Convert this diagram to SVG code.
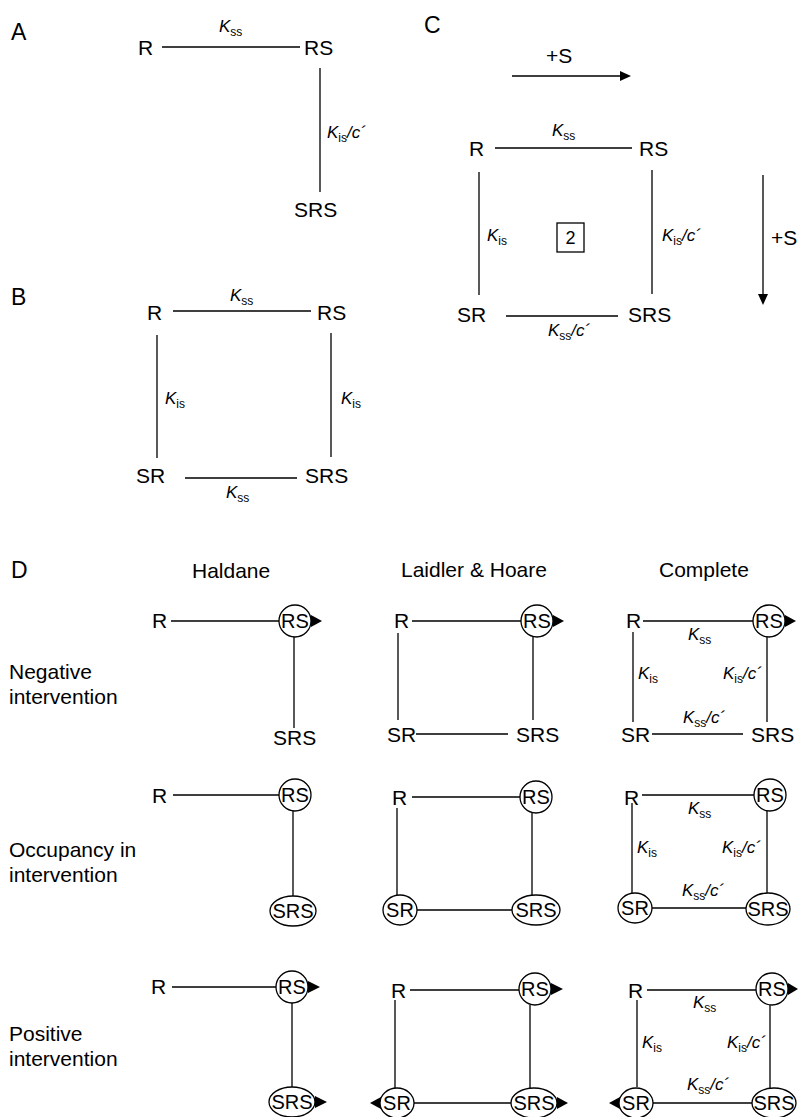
<svg xmlns="http://www.w3.org/2000/svg" width="798" height="1117" viewBox="0 0 798 1117">
<style>
text{font-family:"Liberation Sans",Arial,sans-serif;fill:#000}
.t{font-size:21px}
.p{font-size:23px}
.k{font-size:17px;font-style:italic}
.s{font-size:12px;font-style:normal}
.c{text-anchor:middle;font-size:20px}
.e{stroke:#000;stroke-width:1.3;fill:none}
.n{fill:#fff;stroke:#000;stroke-width:1.3}
.ah{fill:#000}
</style>
<rect width="798" height="1117" fill="#fff"/>

<g id="connectors">
  <!-- A -->
  <path class="e" d="M162 47H300M320 68V192"/>
  <!-- B -->
  <path class="e" d="M173 311H311M157 335V458M331 333V457M185 478H297"/>
  <!-- C -->
  <path class="e" d="M495 148H632M479 172V295M652 170V294M506 316H618"/>
  <path class="e" d="M512 76H622M763 175V296"/>
  <polygon class="ah" points="620,71 631,76 620,81"/>
  <polygon class="ah" points="758,294 763,305 768,294"/>
  <!-- D row 1 -->
  <path class="e" d="M171 621H279M294 637V728"/>
  <path class="e" d="M412 621H521M398 633V720M533 637V720M416 734H508"/>
  <path class="e" d="M643 621H753M633 632V722M767 637V722M652 734H743"/>
  <polygon class="ah" points="311,615 322,621 311,627"/>
  <polygon class="ah" points="553,615 564,621 553,627"/>
  <polygon class="ah" points="785,615 796,621 785,627"/>
  <!-- D row 2 -->
  <path class="e" d="M173 795H279M293 811V896"/>
  <path class="e" d="M412 797H520M397 808V895M532 813V895M417 910H512"/>
  <path class="e" d="M642 795H754M632 803V893M767 811V894M652 908H746"/>
  <!-- D row 3 -->
  <path class="e" d="M172 987H276M292 1003V1087"/>
  <path class="e" d="M410 990H519M395 1000V1088M530 1005V1088M414 1103H511"/>
  <path class="e" d="M647 990H757M637 1000V1087M770 1005V1088M653 1103H752"/>
  <polygon class="ah" points="308,981 320,987 308,993"/>
  <polygon class="ah" points="315,1096 327,1102 315,1108"/>
  <polygon class="ah" points="551,983 563,989 551,995"/>
  <polygon class="ah" points="557,1097 568,1103 557,1109"/>
  <polygon class="ah" points="381,1097 370,1103 381,1109"/>
  <polygon class="ah" points="788,983 798,989 788,995"/>
  <polygon class="ah" points="620,1097 609,1103 620,1109"/>
</g>

<g id="panel-A">
  <text class="p" x="11" y="40">A</text>
  <g id="A-R"><text class="t" x="138" y="55">R</text></g>
  <g id="A-RS"><text class="t" x="304" y="55">RS</text></g>
  <g id="A-SRS"><text class="t" x="294" y="217">SRS</text></g>
  <text class="k" x="219" y="32">K<tspan class="s" dy="4">ss</tspan></text>
  <text class="k" x="327" y="138">K<tspan class="s" dy="4">is</tspan><tspan dy="-4">/c´</tspan></text>
</g>

<g id="panel-B">
  <text class="p" x="11" y="305">B</text>
  <g id="B-R"><text class="t" x="147" y="320">R</text></g>
  <g id="B-RS"><text class="t" x="317" y="320">RS</text></g>
  <g id="B-SR"><text class="t" x="136" y="483">SR</text></g>
  <g id="B-SRS"><text class="t" x="305" y="483">SRS</text></g>
  <text class="k" x="230" y="301">K<tspan class="s" dy="4">ss</tspan></text>
  <text class="k" x="165" y="404">K<tspan class="s" dy="4">is</tspan></text>
  <text class="k" x="341" y="404">K<tspan class="s" dy="4">is</tspan></text>
  <text class="k" x="226" y="498">K<tspan class="s" dy="4">ss</tspan></text>
</g>

<g id="panel-C">
  <text class="p" x="424" y="33">C</text>
  <text class="t" x="546" y="63">+S</text>
  <text class="t" x="771" y="245">+S</text>
  <g id="C-R"><text class="t" x="469" y="156">R</text></g>
  <g id="C-RS"><text class="t" x="639" y="156">RS</text></g>
  <g id="C-SR"><text class="t" x="457" y="322">SR</text></g>
  <g id="C-SRS"><text class="t" x="628" y="322">SRS</text></g>
  <g id="C-box">
    <rect x="557" y="223" width="27" height="29" fill="#fff" stroke="#000" stroke-width="1.3"/>
    <text x="570.5" y="244" font-size="18" text-anchor="middle">2</text>
  </g>
  <text class="k" x="552" y="136">K<tspan class="s" dy="4">ss</tspan></text>
  <text class="k" x="487" y="241">K<tspan class="s" dy="4">is</tspan></text>
  <text class="k" x="662" y="241">K<tspan class="s" dy="4">is</tspan><tspan dy="-4">/c´</tspan></text>
  <text class="k" x="548" y="336">K<tspan class="s" dy="4">ss</tspan><tspan dy="-4">/c´</tspan></text>
</g>

<g id="panel-D">
  <text class="p" x="11" y="578">D</text>
  <text class="t" x="192" y="578">Haldane</text>
  <text class="t" x="401" y="577">Laidler &amp; Hoare</text>
  <text class="t" x="659" y="577">Complete</text>
  <text class="t" x="9" y="679">Negative</text>
  <text class="t" x="9" y="704">intervention</text>
  <text class="t" x="9" y="857">Occupancy in</text>
  <text class="t" x="9" y="882">intervention</text>
  <text class="t" x="9" y="1041">Positive</text>
  <text class="t" x="9" y="1066">intervention</text>

  <!-- Row 1 -->
  <g id="D1-H-R"><text class="t" x="152" y="628">R</text></g>
  <g id="D1-H-RS"><circle class="n" cx="295" cy="621" r="16"/><text class="c" x="295" y="628">RS</text></g>
  <g id="D1-H-SRS"><text class="t" x="273" y="745">SRS</text></g>

  <g id="D1-L-R"><text class="t" x="394" y="628">R</text></g>
  <g id="D1-L-RS"><circle class="n" cx="537" cy="621" r="16"/><text class="c" x="537" y="628">RS</text></g>
  <g id="D1-L-SR"><text class="t" x="387" y="742">SR</text></g>
  <g id="D1-L-SRS"><text class="t" x="516" y="742">SRS</text></g>

  <g id="D1-C-R"><text class="t" x="626" y="628">R</text></g>
  <g id="D1-C-RS"><circle class="n" cx="769" cy="621" r="16"/><text class="c" x="769" y="628">RS</text></g>
  <g id="D1-C-SR"><text class="t" x="621" y="742">SR</text></g>
  <g id="D1-C-SRS"><text class="t" x="751" y="742">SRS</text></g>
  <text class="k" x="688" y="640">K<tspan class="s" dy="4">ss</tspan></text>
  <text class="k" x="638" y="679">K<tspan class="s" dy="4">is</tspan></text>
  <text class="k" x="723" y="679">K<tspan class="s" dy="4">is</tspan><tspan dy="-4">/c´</tspan></text>
  <text class="k" x="683" y="723">K<tspan class="s" dy="4">ss</tspan><tspan dy="-4">/c´</tspan></text>

  <!-- Row 2 -->
  <g id="D2-H-R"><text class="t" x="152" y="803">R</text></g>
  <g id="D2-H-RS"><circle class="n" cx="295" cy="795" r="16"/><text class="c" x="295" y="802">RS</text></g>
  <g id="D2-H-SRS"><ellipse class="n" cx="293" cy="911" rx="23" ry="15"/><text class="c" x="293" y="918">SRS</text></g>

  <g id="D2-L-R"><text class="t" x="392" y="805">R</text></g>
  <g id="D2-L-RS"><circle class="n" cx="536" cy="797" r="16"/><text class="c" x="536" y="804">RS</text></g>
  <g id="D2-L-SR"><ellipse class="n" cx="400" cy="910" rx="17" ry="15"/><text class="c" x="400" y="917">SR</text></g>
  <g id="D2-L-SRS"><ellipse class="n" cx="536" cy="910" rx="24" ry="15"/><text class="c" x="536" y="917">SRS</text></g>

  <g id="D2-C-R"><text class="t" x="624" y="805">R</text></g>
  <g id="D2-C-RS"><circle class="n" cx="770" cy="795" r="16"/><text class="c" x="770" y="802">RS</text></g>
  <g id="D2-C-SR"><ellipse class="n" cx="635" cy="908" rx="17" ry="15"/><text class="c" x="635" y="915">SR</text></g>
  <g id="D2-C-SRS"><ellipse class="n" cx="768" cy="909" rx="22" ry="16"/><text class="c" x="768" y="916">SRS</text></g>
  <text class="k" x="688" y="814">K<tspan class="s" dy="4">ss</tspan></text>
  <text class="k" x="637" y="853">K<tspan class="s" dy="4">is</tspan></text>
  <text class="k" x="722" y="853">K<tspan class="s" dy="4">is</tspan><tspan dy="-4">/c´</tspan></text>
  <text class="k" x="682" y="896">K<tspan class="s" dy="4">ss</tspan><tspan dy="-4">/c´</tspan></text>

  <!-- Row 3 -->
  <g id="D3-H-R"><text class="t" x="151" y="994">R</text></g>
  <g id="D3-H-RS"><circle class="n" cx="292" cy="987" r="16"/><text class="c" x="292" y="994">RS</text></g>
  <g id="D3-H-SRS"><ellipse class="n" cx="292" cy="1102" rx="23" ry="15"/><text class="c" x="292" y="1109">SRS</text></g>

  <g id="D3-L-R"><text class="t" x="391" y="998">R</text></g>
  <g id="D3-L-RS"><circle class="n" cx="535" cy="989" r="16"/><text class="c" x="535" y="996">RS</text></g>
  <g id="D3-L-SR"><ellipse class="n" cx="397" cy="1103" rx="17" ry="15"/><text class="c" x="397" y="1110">SR</text></g>
  <g id="D3-L-SRS"><ellipse class="n" cx="534" cy="1103" rx="23" ry="15"/><text class="c" x="534" y="1110">SRS</text></g>

  <g id="D3-C-R"><text class="t" x="628" y="998">R</text></g>
  <g id="D3-C-RS"><circle class="n" cx="772" cy="989" r="16"/><text class="c" x="772" y="996">RS</text></g>
  <g id="D3-C-SR"><ellipse class="n" cx="636" cy="1103" rx="17" ry="15"/><text class="c" x="636" y="1110">SR</text></g>
  <g id="D3-C-SRS"><ellipse class="n" cx="774" cy="1103" rx="22" ry="15"/><text class="c" x="774" y="1110">SRS</text></g>
  <text class="k" x="693" y="1008">K<tspan class="s" dy="4">ss</tspan></text>
  <text class="k" x="642" y="1048">K<tspan class="s" dy="4">is</tspan></text>
  <text class="k" x="727" y="1048">K<tspan class="s" dy="4">is</tspan><tspan dy="-4">/c´</tspan></text>
  <text class="k" x="687" y="1090">K<tspan class="s" dy="4">ss</tspan><tspan dy="-4">/c´</tspan></text>
</g>
</svg>
